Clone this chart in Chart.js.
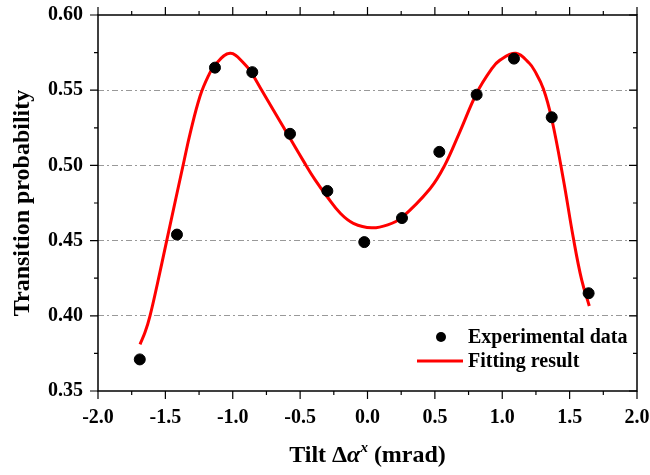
<!DOCTYPE html>
<html>
<head>
<meta charset="utf-8">
<script src="https://cdn.jsdelivr.net/npm/chart.js@4.4.0/dist/chart.umd.min.js"></script>
<style>
  html, body { margin: 0; padding: 0; background: #fff; }
  #wrap { width: 650px; height: 475px; }
</style>
</head>
<body>
<div id="wrap"><canvas id="tilt-chart"></canvas></div>
<script>
// measured points
var expX = [-1.69, -1.414, -1.132, -0.855, -0.575, -0.298, -0.024, 0.256, 0.533, 0.81, 1.087, 1.367, 1.641];
var expY = [0.371, 0.454, 0.565, 0.562, 0.521, 0.483, 0.449, 0.465, 0.509, 0.547, 0.571, 0.532, 0.415];

// fitted curve
var fitX = [-1.688, -1.651, -1.614, -1.56, -1.49, -1.36, -1.317, -1.243, -1.181, -1.132, -1.02, -0.917, -0.859, -0.785, -0.70, -0.575, -0.476, -0.39, -0.298, -0.20, -0.105, 0.031, 0.15, 0.256, 0.464, 0.57, 0.686, 0.81, 0.92, 0.983, 1.102, 1.201, 1.243, 1.305, 1.367, 1.453, 1.527, 1.589, 1.646];
var fitY = [0.381, 0.389, 0.400, 0.421, 0.450, 0.5036, 0.521, 0.546, 0.5595, 0.5668, 0.5745, 0.5679, 0.5612, 0.550, 0.537, 0.518, 0.503, 0.4905, 0.479, 0.468, 0.4615, 0.4585, 0.4605, 0.4655, 0.4845, 0.4995, 0.5225, 0.548, 0.564, 0.570, 0.5745, 0.5679, 0.5625, 0.551, 0.531, 0.491, 0.452, 0.424, 0.4065];

var xTicks = [-2.0, -1.5, -1.0, -0.5, 0.0, 0.5, 1.0, 1.5, 2.0];
var yTicks = [0.35, 0.40, 0.45, 0.50, 0.55, 0.60];

var FONT = '"Liberation Serif", "Times New Roman", serif';

function pairs(xs, ys) {
    return xs.map(function (x, i) { return { x: x, y: ys[i] }; });
}

// frame, minor ticks, axis titles, legend
var decorations = {
    id: 'decorations',
    afterDraw: function (chart) {
        var ctx = chart.ctx, a = chart.chartArea;
        var sx = chart.scales.x, sy = chart.scales.y;
        ctx.save();
        ctx.strokeStyle = '#000';
        ctx.lineWidth = 1.5;
        ctx.strokeRect(a.left, a.top, a.right - a.left, a.bottom - a.top);

        ctx.lineWidth = 1.2;
        ctx.beginPath();
        for (var v = -2.0; v <= 2.001; v += 0.25) {
            var px = sx.getPixelForValue(v);
            var major = Math.abs(v * 2 - Math.round(v * 2)) < 1e-6;
            var len = major ? 8 : 4;
            ctx.moveTo(px, a.bottom); ctx.lineTo(px, a.bottom + len);
            ctx.moveTo(px, a.top); ctx.lineTo(px, a.top - len);
        }
        for (var w = 0.35; w <= 0.6001; w += 0.025) {
            var py = sy.getPixelForValue(w);
            var maj = Math.abs(w * 20 - Math.round(w * 20)) < 1e-6;
            var l = maj ? 8 : 4;
            ctx.moveTo(a.left, py); ctx.lineTo(a.left - l, py);
            ctx.moveTo(a.right, py); ctx.lineTo(a.right - l, py);
        }
        ctx.stroke();

        // y title
        ctx.fillStyle = '#000';
        ctx.save();
        ctx.translate(23, (a.top + a.bottom) / 2);
        ctx.rotate(-Math.PI / 2);
        ctx.font = 'bold 24px ' + FONT;
        ctx.textAlign = 'center';
        ctx.textBaseline = 'middle';
        ctx.fillText('Transition probability', 0, 0);
        ctx.restore();

        // x title: Tilt Δα^x (mrad)
        var parts = [
            { t: 'Tilt \u0394', f: 'bold 24px ' + FONT, dy: 0 },
            { t: '\u03B1', f: 'italic bold 24px ' + FONT, dy: 0 },
            { t: 'x', f: 'italic bold 15px ' + FONT, dy: -10 },
            { t: ' (mrad)', f: 'bold 24px ' + FONT, dy: 0 }
        ];
        var total = 0;
        parts.forEach(function (p) { ctx.font = p.f; p.w = ctx.measureText(p.t).width; total += p.w; });
        var cx = (a.left + a.right) / 2 - total / 2;
        ctx.textAlign = 'left';
        ctx.textBaseline = 'alphabetic';
        parts.forEach(function (p) {
            ctx.font = p.f;
            ctx.fillText(p.t, cx, 462 + p.dy);
            cx += p.w;
        });

        // legend
        ctx.font = 'bold 20px ' + FONT;
        ctx.textBaseline = 'middle';
        ctx.beginPath();
        ctx.arc(441, 337, 5, 0, Math.PI * 2);
        ctx.fill();
        ctx.fillText('Experimental data', 468, 338);
        ctx.strokeStyle = '#ff0000';
        ctx.lineWidth = 3;
        ctx.beginPath();
        ctx.moveTo(417, 361); ctx.lineTo(463, 361);
        ctx.stroke();
        ctx.fillText('Fitting result', 468, 362);
        ctx.restore();
    }
};

new Chart(document.getElementById('tilt-chart'), {
    type: 'scatter',
    data: {
        datasets: [{
            label: 'Experimental data',
            data: pairs(expX, expY),
            backgroundColor: '#000',
            borderColor: '#000',
            pointRadius: 5.5,
            pointHoverRadius: 5.5,
            order: 1
        }, {
            label: 'Fitting result',
            data: pairs(fitX, fitY),
            showLine: true,
            borderColor: '#ff0000',
            borderWidth: 3,
            pointRadius: 0,
            tension: 0.4,
            order: 2
        }]
    },
    options: {
        responsive: true,
        maintainAspectRatio: false,
        animation: false,
        layout: { padding: { top: 15, right: 13, left: 0, bottom: 0 } },
        plugins: { legend: { display: false }, tooltip: { enabled: false } },
        scales: {
            x: {
                type: 'linear',
                min: -2, max: 2,
                afterBuildTicks: function (s) { s.ticks = xTicks.map(function (v) { return { value: v }; }); },
                afterFit: function (s) { s.height = 84; s.paddingLeft = 0; s.paddingRight = 0; },
                grid: { display: false, drawTicks: false },
                border: { display: false },
                ticks: {
                    padding: 15,
                    color: '#000',
                    font: { family: FONT, size: 20, weight: 'bold' },
                    callback: function (v) { return v.toFixed(1); }
                }
            },
            y: {
                type: 'linear',
                min: 0.35, max: 0.60,
                afterBuildTicks: function (s) { s.ticks = yTicks.map(function (v) { return { value: v }; }); },
                afterFit: function (s) { s.width = 98; s.paddingTop = 0; s.paddingBottom = 0; },
                grid: {
                    drawTicks: false,
                    color: function (c) {
                        var v = c.tick ? c.tick.value : 0;
                        return (Math.abs(v - 0.35) < 1e-6 || Math.abs(v - 0.6) < 1e-6) ? 'rgba(0,0,0,0)' : '#999';
                    },
                    lineWidth: 1
                },
                border: { display: false, dash: [6, 3, 2, 3] },
                ticks: {
                    padding: 15,
                    color: '#000',
                    font: { family: FONT, size: 20, weight: 'bold' },
                    callback: function (v) { return v.toFixed(2); }
                }
            }
        }
    },
    plugins: [decorations]
});
</script>
</body>
</html>
